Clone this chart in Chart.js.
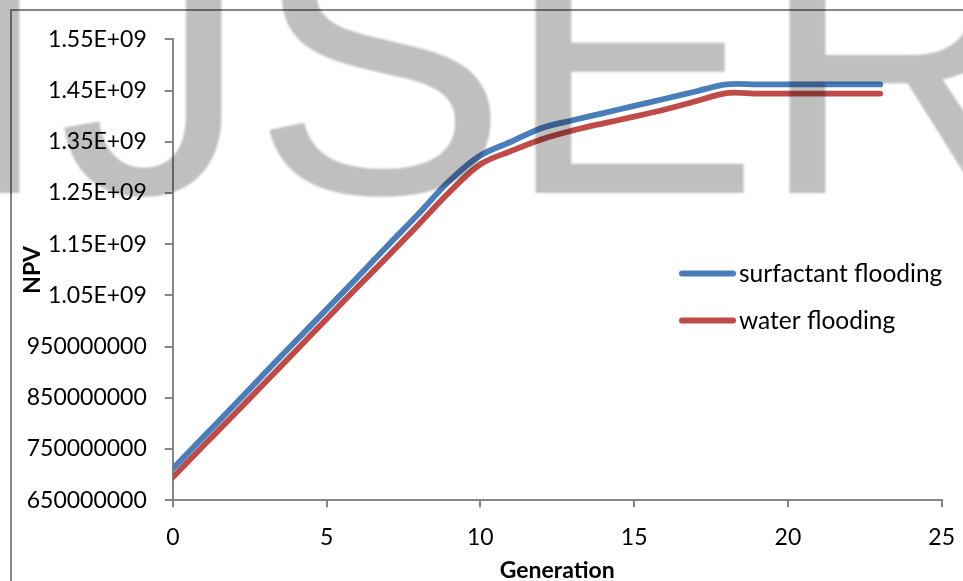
<!DOCTYPE html>
<html><head><meta charset="utf-8">
<script src="https://cdn.jsdelivr.net/npm/chart.js@4/dist/chart.umd.min.js"></script>
<style>html,body{margin:0;padding:0;background:#fff;overflow:hidden}canvas{display:block}</style>
</head><body>
<canvas id="c" width="963" height="581"></canvas>
<script>
const generations = [0,1,2,3,4,5,6,7,8,9,10,11,12,13,14,15,16,17,18,19,20,21,22,23];
const surfactantNPV = [712e6,774e6,836e6,899e6,961e6,1023e6,1085e6,1148e6,1210e6,1274e6,1323e6,1350e6,1377e6,1392e6,1406e6,1420e6,1434e6,1448e6,1462e6,1462e6,1462e6,1462e6,1462e6,1462e6];
const waterNPV = [695e6,757e6,818e6,880e6,942e6,1004e6,1066e6,1127e6,1189e6,1252e6,1306e6,1332e6,1355e6,1372e6,1386e6,1399e6,1413e6,1429e6,1445e6,1444e6,1444e6,1444e6,1444e6,1444e6];
const seriesNames = ['surfactant flooding','water flooding'];
const xTickLabels = ['0','5','10','15','20','25'];
const yTickLabels = ['650000000','750000000','850000000','950000000','1.05E+09','1.15E+09','1.25E+09','1.35E+09','1.45E+09','1.55E+09'];
const xTitle = 'Generation';
const yTitle = 'NPV';
const watermarkLetters = ['I','J','S','E','R'];

const FONT = 'Lato';
const AXIS = '#868686';

const toPts = (ys) => generations.map((g, i) => ({x: g, y: ys[i]}));

const frame = {
  id: 'frame',
  beforeDraw(chart) {
    const ctx = chart.ctx;
    ctx.save();
    ctx.fillStyle = '#fff';
    ctx.fillRect(0, 0, chart.width, chart.height);
    ctx.strokeStyle = AXIS;
    ctx.lineWidth = 2;
    ctx.beginPath();
    ctx.moveTo(11, chart.height + 5);
    ctx.lineTo(11, 10);
    ctx.lineTo(chart.width + 5, 10);
    ctx.stroke();
    ctx.restore();
  }
};

const legendBox = {
  id: 'legendBox',
  afterDraw(chart) {
    const ctx = chart.ctx;
    ctx.save();
    const rows = [273.5, 320.5];
    chart.data.datasets.forEach((ds, i) => {
      const y = rows[i];
      ctx.strokeStyle = ds.borderColor;
      ctx.lineWidth = 6;
      ctx.lineCap = 'round';
      ctx.beginPath();
      ctx.moveTo(682, y);
      ctx.lineTo(733, y);
      ctx.stroke();
      ctx.fillStyle = '#000';
      ctx.font = '24.5px ' + FONT;
      ctx.textBaseline = 'middle';
      ctx.textAlign = 'left';
      ctx.fillText(ds.label, 739, y + 1);
    });
    ctx.restore();
  }
};

const watermark = {
  id: 'watermark',
  afterDraw(chart) {
    const ctx = chart.ctx;
    const inkLeft = [-22, 64, 264, 534, 788];
    ctx.save();
    ctx.filter = 'blur(1px)';
    ctx.fillStyle = 'rgba(0,0,0,0.25)';
    ctx.font = '384px "Liberation Sans"';
    ctx.textBaseline = 'alphabetic';
    ctx.textAlign = 'left';
    watermarkLetters.forEach((ch, i) => {
      const m = ctx.measureText(ch);
      ctx.fillText(ch, inkLeft[i] + m.actualBoundingBoxLeft, 193);
    });
    ctx.restore();
  }
};

function build() {
  new Chart(document.getElementById('c'), {
    type: 'line',
    data: {
      datasets: [
        {label: seriesNames[0], data: toPts(surfactantNPV), borderColor: '#4A7EBB'},
        {label: seriesNames[1], data: toPts(waterNPV), borderColor: '#BE4B48'}
      ]
    },
    options: {
      responsive: false,
      devicePixelRatio: 1,
      animation: false,
      layout: {padding: {left: 0, top: 39.3, right: 21.3, bottom: 0}},
      elements: {
        line: {borderWidth: 5.8, tension: 0.33, borderCapStyle: 'round', borderJoinStyle: 'round', fill: false},
        point: {radius: 0, hoverRadius: 0}
      },
      plugins: {legend: {display: false}, tooltip: {enabled: false}},
      scales: {
        x: {
          type: 'linear', min: 0, max: 25,
          afterFit(s) { s.height = 80.7; s.paddingLeft = 0; s.paddingRight = 0; },
          ticks: {stepSize: 5, color: '#000', font: {family: FONT, size: 23}, padding: 16,
                  callback: (v, i) => xTickLabels[i]},
          grid: {drawOnChartArea: false, drawTicks: true, tickLength: 7, color: AXIS, lineWidth: 2},
          border: {display: true, color: AXIS, width: 2},
          title: {display: true, text: xTitle, color: '#000', font: {family: FONT, size: 23, weight: 'bold', lineHeight: 1}, padding: {top: 0, bottom: -1}}
        },
        y: {
          type: 'linear', min: 650000000, max: 1550000000,
          afterFit(s) { s.width = 172.8; s.paddingTop = 0; s.paddingBottom = 0; },
          ticks: {stepSize: 100000000, color: '#000', font: {family: FONT, size: 23}, padding: 18,
                  callback: (v, i) => yTickLabels[i]},
          grid: {drawOnChartArea: false, drawTicks: true, tickLength: 8, color: AXIS, lineWidth: 2},
          border: {display: true, color: AXIS, width: 2},
          title: {display: true, text: yTitle, color: '#000', font: {family: FONT, size: 23, weight: 'bold', lineHeight: 1.2}, padding: {top: 19, bottom: 0}}
        }
      }
    },
    plugins: [frame, legendBox, watermark]
  });
}

Promise.all([
  document.fonts.load('23px Lato'),
  document.fonts.load('bold 23px Lato'),
  document.fonts.load('384px "Liberation Sans"')
]).then(build, build);
</script>
</body></html>
